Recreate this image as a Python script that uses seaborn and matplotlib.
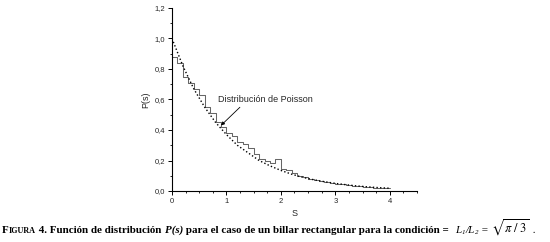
import numpy as np
import pandas as pd
import matplotlib
matplotlib.use("Agg")
import matplotlib.pyplot as plt
from matplotlib.ticker import MultipleLocator, FuncFormatter
import seaborn as sns

# histograma (ancho de bin 0.1, de 0 a 4)
bin_edges = np.round(np.arange(0, 4.01, 0.1), 2)
hist_vals = [0.88, 0.84, 0.75, 0.71, 0.67, 0.63, 0.55, 0.51, 0.45, 0.42,
             0.38, 0.36, 0.32, 0.31, 0.28, 0.24, 0.21, 0.20, 0.185, 0.21,
             0.145, 0.135, 0.115, 0.10, 0.09, 0.08, 0.072, 0.064, 0.058, 0.052,
             0.047, 0.043, 0.039, 0.034, 0.031, 0.028, 0.025, 0.023, 0.021, 0.019]

# curva de Poisson
s_curve = [0.0, 0.2, 0.4, 0.6, 0.8, 1.0, 1.2, 1.4, 1.6, 1.8, 2.0,
           2.2, 2.4, 2.6, 2.8, 3.0, 3.2, 3.4, 3.6, 3.8, 4.0]
p_curve = [1.0, 0.82, 0.67, 0.55, 0.45, 0.37, 0.30, 0.25, 0.20, 0.165, 0.135,
           0.11, 0.09, 0.074, 0.061, 0.05, 0.041, 0.033, 0.027, 0.022, 0.018]

sns.set_theme(style="ticks")
plt.rcParams['font.family'] = ['Liberation Sans', 'DejaVu Sans']
plt.rcParams['mathtext.fontset'] = 'stix'

fig = plt.figure(figsize=(5.5, 2.42), dpi=100)
ax = fig.add_axes([0.3127, 0.2107, 0.4455, 0.7563])

df_hist = pd.DataFrame({'s': (bin_edges[:-1] + bin_edges[1:]) / 2, 'p': hist_vals})
sns.histplot(data=df_hist, x='s', weights='p', bins=list(bin_edges), element="step",
             fill=False, color="#666666", linewidth=0.75, ax=ax)
sns.lineplot(x=s_curve, y=p_curve, color="black", linestyle=(0, (1, 1.6)),
             linewidth=1.0, ax=ax)

ax.set_xlim(0, 4.5)
ax.set_ylim(0, 1.2)
ax.xaxis.set_major_locator(MultipleLocator(1))
ax.xaxis.set_minor_locator(MultipleLocator(0.25))
ax.yaxis.set_major_locator(MultipleLocator(0.2))
ax.yaxis.set_minor_locator(MultipleLocator(0.1))
ax.yaxis.set_major_formatter(FuncFormatter(lambda v, p: f"{v:.1f}".replace('.', ',')))
ax.xaxis.set_major_formatter(FuncFormatter(lambda v, p: f"{v:.0f}"))
ax.tick_params(which='major', length=3, width=0.7, labelsize=5.5, pad=2, color='black')
ax.tick_params(which='minor', length=1.6, width=0.6, color='black')
for lado in ['top', 'right']:
    ax.spines[lado].set_visible(False)
for lado in ['left', 'bottom']:
    ax.spines[lado].set_linewidth(0.8)
    ax.spines[lado].set_color('black')

ax.set_xlabel("S", fontsize=6.5, labelpad=3)
ax.set_ylabel("P(s)", fontsize=6.5, labelpad=3)

ax.annotate("Distribución de Poisson", xy=(0.9, 0.43), xytext=(0.84, 0.6),
            fontsize=6.5, va='center', ha='left',
            arrowprops=dict(arrowstyle='-|>', color='black', lw=0.6,
                            shrinkA=0, shrinkB=0, mutation_scale=5,
                            relpos=(0.27, 0.0)))

# pie de figura
piezas = [
    ("F", dict(fontsize=7.9, weight='bold')),
    ("IGURA", dict(fontsize=5.9, weight='bold')),
    (" 4. Función de distribución ", dict(fontsize=7.9, weight='bold')),
    ("P(s)", dict(fontsize=7.9, weight='bold', style='italic')),
    (" para el caso de un billar rectangular para la condición =  ", dict(fontsize=7.9, weight='bold')),
    ("L", dict(fontsize=8, style='italic')),
    ("1", dict(fontsize=5, style='italic', dy=-1.5)),
    ("/L", dict(fontsize=8, style='italic')),
    ("2", dict(fontsize=5, style='italic', dy=-1.5)),
    (" = ", dict(fontsize=8)),
    (r"$\sqrt{\pi\ /\ 3}$", dict(fontsize=9)),
    (" .", dict(fontsize=8)),
]
renderer = fig.canvas.get_renderer()
x_px = 2.0
y_px = 242 - 233
for texto, props in piezas:
    props = dict(props)
    dy = props.pop('dy', 0)
    t = fig.text(x_px / 550, (y_px + dy) / 242, texto, family=['Liberation Serif', 'DejaVu Serif'],
                 va='baseline', ha='left', color='black', **props)
    bb = t.get_window_extent(renderer=renderer)
    x_px = bb.x1 + 0.3

fig.savefig("out.png", dpi=100)
